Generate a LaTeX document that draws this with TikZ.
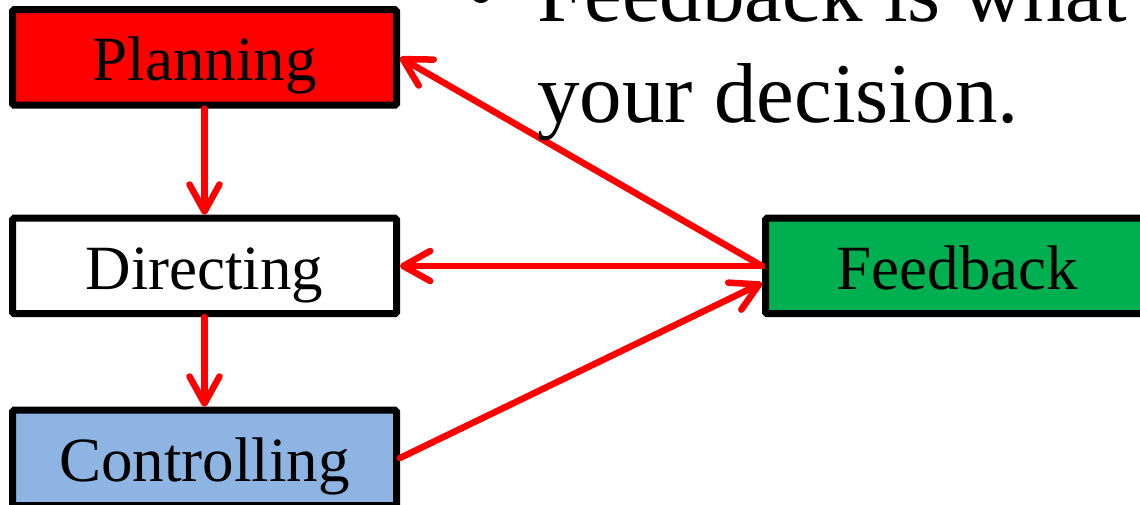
\documentclass[tikz,border=0pt]{standalone}
\usepackage{fontspec}
\setmainfont{Liberation Serif}
\usetikzlibrary{arrows.meta}
\definecolor{planred}{HTML}{FF0000}
\definecolor{fbgreen}{HTML}{00B050}
\definecolor{ctrlblue}{HTML}{8EB4E3}
\begin{document}
\begin{tikzpicture}[x=1pt,y=1pt,
  box/.style={draw=black, line width=7pt, rounded corners=1.5pt,
    minimum width=384pt, minimum height=95.5pt, inner sep=0pt,
    text height=47pt, text depth=0pt, font=\fontsize{63}{70}\selectfont},
  conn/.style={draw=red, line width=6.5pt, line cap=round,
    -{Straight Barb[length=27pt,width=30pt,round]}},
  bigtext/.style={anchor=base west, inner sep=0pt, font=\fontsize{85}{100}\selectfont}
]
\useasboundingbox (0,0) rectangle (1140,505);
\clip (0,0) rectangle (1140,505);

\node[box, fill=planred] (plan) at (204.5,447.5) {Planning};
\node[box, fill=white] (dir) at (204.5,239) {Directing};
\node[box, fill=ctrlblue] (ctrl) at (204.5,47) {Controlling};
\node[box, fill=fbgreen] (fb) at (957.5,239) {Feedback};

\draw[conn] (plan.south) -- (dir.north);
\draw[conn] (dir.south) -- (ctrl.north);
\draw[conn] (fb.west) -- (dir.east);
\draw[conn] (fb.west) -- (plan.east);
\coordinate (fbin) at ([yshift=-17pt]fb.west);
\draw[conn] (ctrl.east) -- (fbin);

\node[bigtext] (bul) at (466,483) {•};
\node[bigtext] (l1) at (537,483) {Feedback is what};
\node[bigtext] (l2) at (537,382) {your decision.};
\end{tikzpicture}
\end{document}
